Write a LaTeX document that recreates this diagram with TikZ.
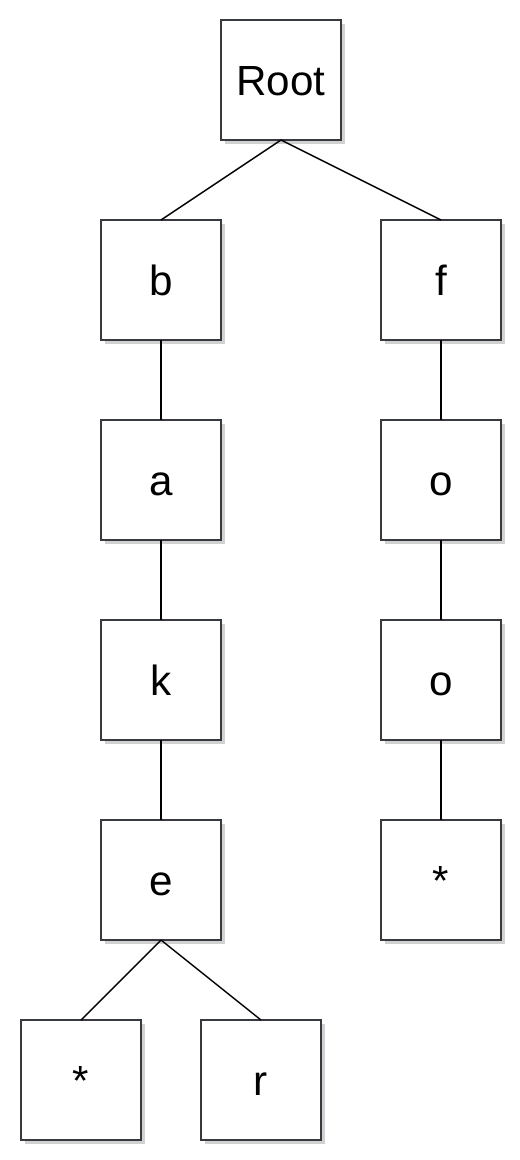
\documentclass[tikz,border=0pt]{standalone}
\usepackage{fontspec}
\setmainfont{Liberation Sans}
\usepackage{tikz}
\usetikzlibrary{positioning,shadows}

\definecolor{boxline}{HTML}{36393D}

\begin{document}
\begin{tikzpicture}
[node distance=1.6cm,
letter box/.style={rectangle, draw=boxline, line width=1.1pt, fill=white,
  minimum size=2.4cm, inner sep=0pt, outer sep=0pt,
  text height=0.62cm, text depth=0pt,
  font=\fontsize{24}{28}\selectfont,
  drop shadow={shadow xshift=0.07cm, shadow yshift=-0.07cm, fill=black, opacity=0.18}},
tree edge/.style={draw=black, line width=0.8pt}]

  \useasboundingbox (0,0) rectangle (10.4,-23.2);

  \node[letter box] (root) at (5.62,-1.6) {Root};
  \node[letter box] (b) [below left=1.6cm and 0cm of root] {b};
  \node[letter box] (f) [below right=1.6cm and 0.8cm of root] {f};
  \node[letter box] (a) [below=of b] {a};
  \node[letter box] (k) [below=of a] {k};
  \node[letter box] (e) [below=of k] {e};
  \node[letter box] (end1) [below=of e, xshift=-1.6cm] {*};
  \node[letter box] (r) [below=of e, xshift=2cm] {r};
  \node[letter box] (o1) [below=of f] {o};
  \node[letter box] (o2) [below=of o1] {o};
  \node[letter box] (end2) [below=of o2] {*};

  \path[tree edge]
    (root.south) edge (b.north)
    (root.south) edge (f.north)
    (b) edge (a)
    (a) edge (k)
    (k) edge (e)
    (e.south) edge (end1.north)
    (e.south) edge (r.north)
    (f) edge (o1)
    (o1) edge (o2)
    (o2) edge (end2);

\end{tikzpicture}
\end{document}
